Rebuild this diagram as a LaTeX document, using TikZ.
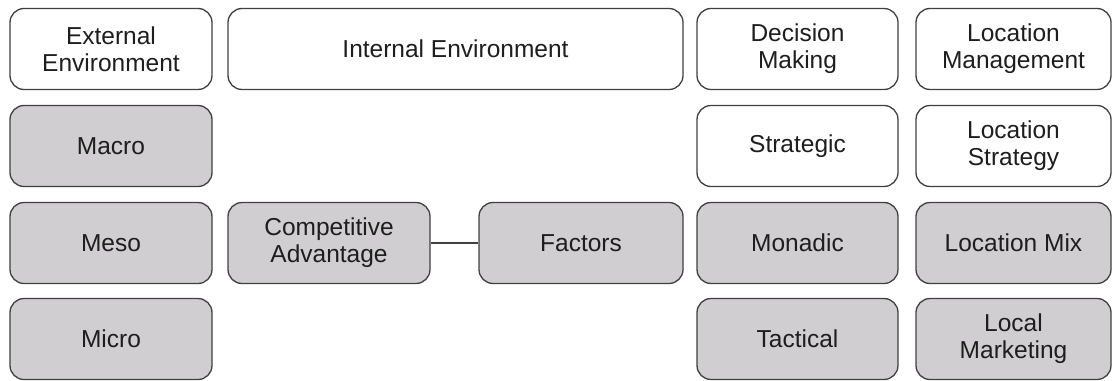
\documentclass[tikz,border=0pt]{standalone}
\usepackage{fontspec}
\setmainfont{Liberation Sans}
\usepackage{tikz}

\definecolor{boxline}{HTML}{404040}
\definecolor{boxfill}{HTML}{D0CED0}
\definecolor{boxtext}{HTML}{1E1E1E}

\begin{document}
\begin{tikzpicture}
    [x=1pt,y=-1pt,
    block/.style={draw=boxline,line width=1.3pt,rounded corners=14pt,
        minimum height=81pt,align=center,text=boxtext,
        font=\fontsize{24.5}{27}\selectfont},
    head/.style={block,fill=white},
    item/.style={block,fill=boxfill},
    link/.style={draw=boxline,line width=1.3pt}]

\useasboundingbox (0,0) rectangle (1113,380);

%header row
\node[head,minimum width=202pt] (ext) at (111,49) {External\\Environment};
\node[head,minimum width=455pt] (int) at (455.5,49) {Internal Environment};
\node[head,minimum width=201pt] (dec) at (797.5,49) {Decision\\Making};
\node[head,minimum width=195pt] (loc) at (1013.5,49) {Location\\Management};

%external levels
\node[item,minimum width=202pt] (macro) at (111,146) {Macro};
\node[item,minimum width=202pt] (meso) at (111,243) {Meso};
\node[item,minimum width=202pt] (micro) at (111,339) {Micro};

%internal
\node[item,minimum width=202pt] (comp) at (329,243) {Competitive\\Advantage};
\node[item,minimum width=204pt] (fact) at (581,243) {Factors};
\draw[link] (comp) -- (fact);

%decision levels
\node[head,minimum width=201pt] (strat) at (797.5,146) {Strategic};
\node[item,minimum width=201pt] (mona) at (797.5,243) {Monadic};
\node[item,minimum width=201pt] (tact) at (797.5,339) {Tactical};

%location management
\node[head,minimum width=195pt] (lstrat) at (1013.5,146) {Location\\Strategy};
\node[item,minimum width=195pt] (lmix) at (1013.5,243) {Location Mix};
\node[item,minimum width=195pt] (lmark) at (1013.5,339) {Local\\Marketing};

\end{tikzpicture}
\end{document}
